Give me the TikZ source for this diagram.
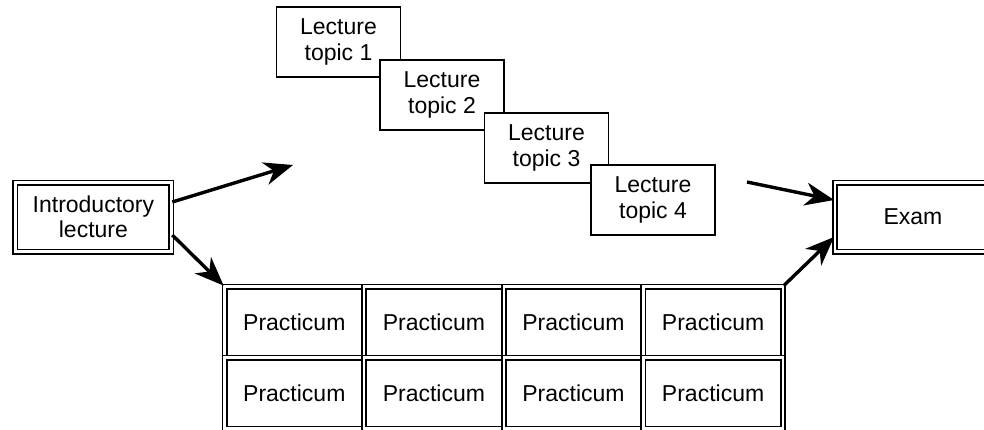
\documentclass[tikz,border=0pt]{standalone}
\usepackage{fontspec}
\setmainfont{Liberation Sans}
\usetikzlibrary{arrows.meta}
\tikzset{
    box/.style={draw, fill=white, line width=1.8pt, inner sep=0pt, align=center, font=\fontsize{23}{25.5}\selectfont},
    topicbox/.style={box, minimum width=124pt, minimum height=70pt},
    dblbox/.style={box, double, double distance=2.4pt, minimum width=156pt, minimum height=69pt},
    pracbox/.style={dblbox, minimum width=139.6pt, minimum height=71pt},
    flow/.style={-{Stealth[length=29pt, width=23pt, inset=9pt]}, line width=3.4pt}
}
\begin{document}
\begin{tikzpicture}[x=1pt, y=-1pt]
    \useasboundingbox (0,0) rectangle (984,429);
    % start and end
    \node[dblbox] (intro) at (93.4, 217) {Introductory\\lecture};
    \node[dblbox] (exam) at (913, 217) {Exam};
    % lecture topics
    \node[topicbox] (topic1) at (338.5, 42) {Lecture\\topic 1};
    \node[topicbox] (topic2) at (442, 95) {Lecture\\topic 2};
    \node[topicbox] (topic3) at (546.5, 148) {Lecture\\topic 3};
    \node[topicbox] (topic4) at (653, 200) {Lecture\\topic 4};
    % first row
    \node[pracbox] (prac11) at (294.3, 322) {Practicum};
    \node[pracbox] (prac12) at (433.9, 322) {Practicum};
    \node[pracbox] (prac13) at (573.5, 322) {Practicum};
    \node[pracbox] (prac14) at (713.1, 322) {Practicum};
    % second row
    \node[pracbox] (prac21) at (294.3, 393) {Practicum};
    \node[pracbox] (prac22) at (433.9, 393) {Practicum};
    \node[pracbox] (prac23) at (573.5, 393) {Practicum};
    \node[pracbox] (prac24) at (713.1, 393) {Practicum};
    % arrows
    \coordinate (lecin) at (293, 165);
    \coordinate (lecout) at (747, 182);
    \draw[flow] ([yshift=15pt]intro.east) -- (lecin);
    \draw[flow] ([yshift=-18pt]intro.east) -- (prac11.north west);
    \draw[flow] (lecout) -- ([yshift=17pt]exam.west);
    \draw[flow] (prac14.north east) -- ([yshift=-20pt]exam.west);
\end{tikzpicture}
\end{document}
